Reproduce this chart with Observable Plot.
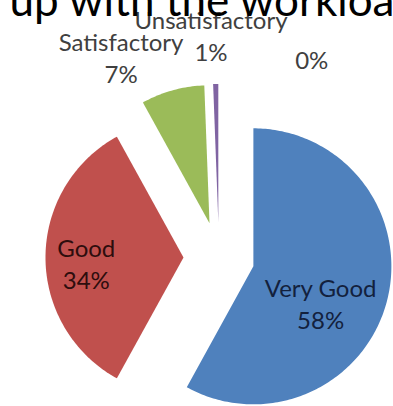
<!DOCTYPE html>
<html><head><meta charset="utf-8">
<script src="https://cdn.jsdelivr.net/npm/d3@7"></script>
<script src="https://cdn.jsdelivr.net/npm/@observablehq/plot@0.6"></script>
<style>body{margin:0;background:#fff}</style></head>
<body><div id="chart"></div>
<script>
const title = "up with the workload";
const categories = ["Very Good", "Good", "Satisfactory", "Unsatisfactory", ""];
const values = [57.9, 33.9, 7.4, 0.6, 0];
const colors = ["#4f81bd", "#c0504d", "#9bbb59", "#8064a2", "#4bacc6"];

// layout
const W = 393, H = 406, cx = 218.5, cy = 257, R = 138, explode = 35.5;
const total = d3.sum(values);
const arcs = d3.pie().sort(null).value(d => d)(values);
const rad = Math.PI / 180;

const slices = [];
arcs.forEach((a, i) => {
  if (a.endAngle - a.startAngle <= 0) return;
  const mid = (a.startAngle + a.endAngle) / 2;
  const ox = cx + explode * Math.sin(mid), oy = cy - explode * Math.cos(mid);
  const pts = [[ox, oy]];
  const n = Math.max(2, Math.ceil((a.endAngle - a.startAngle) / rad));
  for (let k = 0; k <= n; k++) {
    const t = a.startAngle + (a.endAngle - a.startAngle) * k / n;
    pts.push([ox + R * Math.sin(t), oy - R * Math.cos(t)]);
  }
  pts.push([ox, oy]);
  pts.forEach(p => slices.push({name: categories[i], x: p[0], y: p[1]}));
});

// label placement (radius from pie centre, angular shift from slice middle)
const place = [{r: 112.5, da: 11}, {r: 133, da: -3.7}, {r: 221, da: -10.8}, {r: 219.5, da: -1}, {r: 217, da: 25.3}];
const labelShift = -3;
const labels = arcs.map((a, i) => {
  const ang = (a.startAngle + a.endAngle) / 2 + place[i].da * rad;
  const pct = Math.round(values[i] / total * 100) + "%";
  return {
    i,
    text: categories[i] ? categories[i] + "\n" + pct : pct,
    x: cx + place[i].r * Math.sin(ang),
    y: cy - place[i].r * Math.cos(ang) + labelShift
  };
});

const textOpts = {x: "x", y: "y", text: "text", fontSize: 24, lineHeight: 1.33, fontFamily: "Lato", textAnchor: "middle"};

const chart = Plot.plot({
  width: W, height: H, margin: 0,
  style: {fontFamily: "Lato", background: "#fff"},
  x: {domain: [0, W], range: [0, W], axis: null},
  y: {domain: [0, H], range: [0, H], axis: null},
  color: {domain: categories, range: colors},
  marks: [
    Plot.line(slices, {x: "x", y: "y", z: "name", fill: "name", stroke: null, curve: "linear"}),
    Plot.text(labels.filter(d => d.i === 0), {...textOpts, fill: "#13213d"}),
    Plot.text(labels.filter(d => d.i === 1), {...textOpts, fill: "#2e0d0d"}),
    Plot.text(labels.filter(d => d.i > 1), {...textOpts, fill: "#404040"}),
    Plot.text([title], {frameAnchor: "top-left", dx: 9, dy: 15, lineAnchor: "bottom", textAnchor: "start", fontSize: 44, fontFamily: "Lato", fill: "#000"})
  ]
});
document.getElementById("chart").append(chart);
</script>
</body></html>
